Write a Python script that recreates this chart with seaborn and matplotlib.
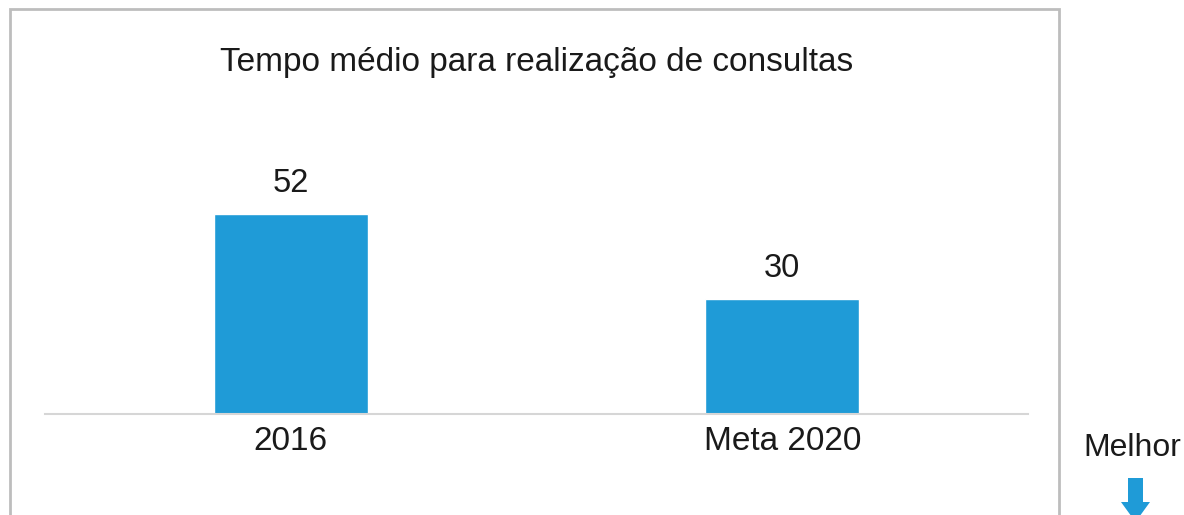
import matplotlib
matplotlib.use("Agg")
import matplotlib.pyplot as plt
import seaborn as sns
import pandas as pd
from matplotlib.patches import Rectangle, Polygon

categories = ["2016", "Meta 2020"]
values = [52, 30]
title = "Tempo médio para realização de consultas"
note = "Melhor"

W, H = 1184, 515
BAR_COLOR = "#1f9bd7"

sns.set_style("white")
plt.rcParams["font.family"] = ["Liberation Sans", "DejaVu Sans"]


def fx(px):
    return px / W


def fy(py):
    # pixel from top -> figure fraction from bottom
    return 1 - py / H


df = pd.DataFrame({"cat": categories, "val": values})

fig = plt.figure(figsize=(W / 100, H / 100), dpi=100)
fig.patch.set_facecolor("white")

# axes: baseline at y=414px, spans x 45..1028
ax = fig.add_axes([fx(45), fy(414), fx(1028) - fx(45), fy(100) - fy(414)])
sns.barplot(data=df, x="cat", y="val", color=BAR_COLOR, width=0.314,
            saturation=1, ax=ax)
ax.set_xlim(-0.5, 1.5)
ax.set_ylim(0, 314 / 3.84)

for c in ax.containers:
    ax.bar_label(c, labels=[str(v) for v in values], padding=11, fontsize=23.5,
                 color="#1a1a1a")

for s in ["top", "left", "right"]:
    ax.spines[s].set_visible(False)
ax.spines["bottom"].set_color("#d6d6d6")
ax.spines["bottom"].set_linewidth(1.5)
ax.set_yticks([])
ax.set_xlabel("")
ax.set_ylabel("")
ax.tick_params(axis="x", length=0, pad=9, labelsize=24, labelcolor="#1a1a1a")

fig.text(fx(536.5), fy(62), title, ha="center", va="center", fontsize=24,
         color="#1a1a1a")
fig.text(fx(1132), fy(448), note, ha="center", va="center", fontsize=23,
         color="#1a1a1a")

# outer frame
fig.add_artist(Rectangle((fx(10), fy(530)), fx(1059) - fx(10), fy(9) - fy(530),
                         transform=fig.transFigure, fill=False,
                         edgecolor="#bdbdbd", linewidth=2))

# down arrow
pts = [(1128, 478), (1143, 478), (1143, 502), (1150, 502), (1135.5, 522),
       (1121, 502), (1128, 502)]
fig.add_artist(Polygon([(fx(x), fy(y)) for x, y in pts], closed=True,
                       transform=fig.transFigure, facecolor=BAR_COLOR,
                       edgecolor="none"))

fig.savefig("out.png", dpi=100)
